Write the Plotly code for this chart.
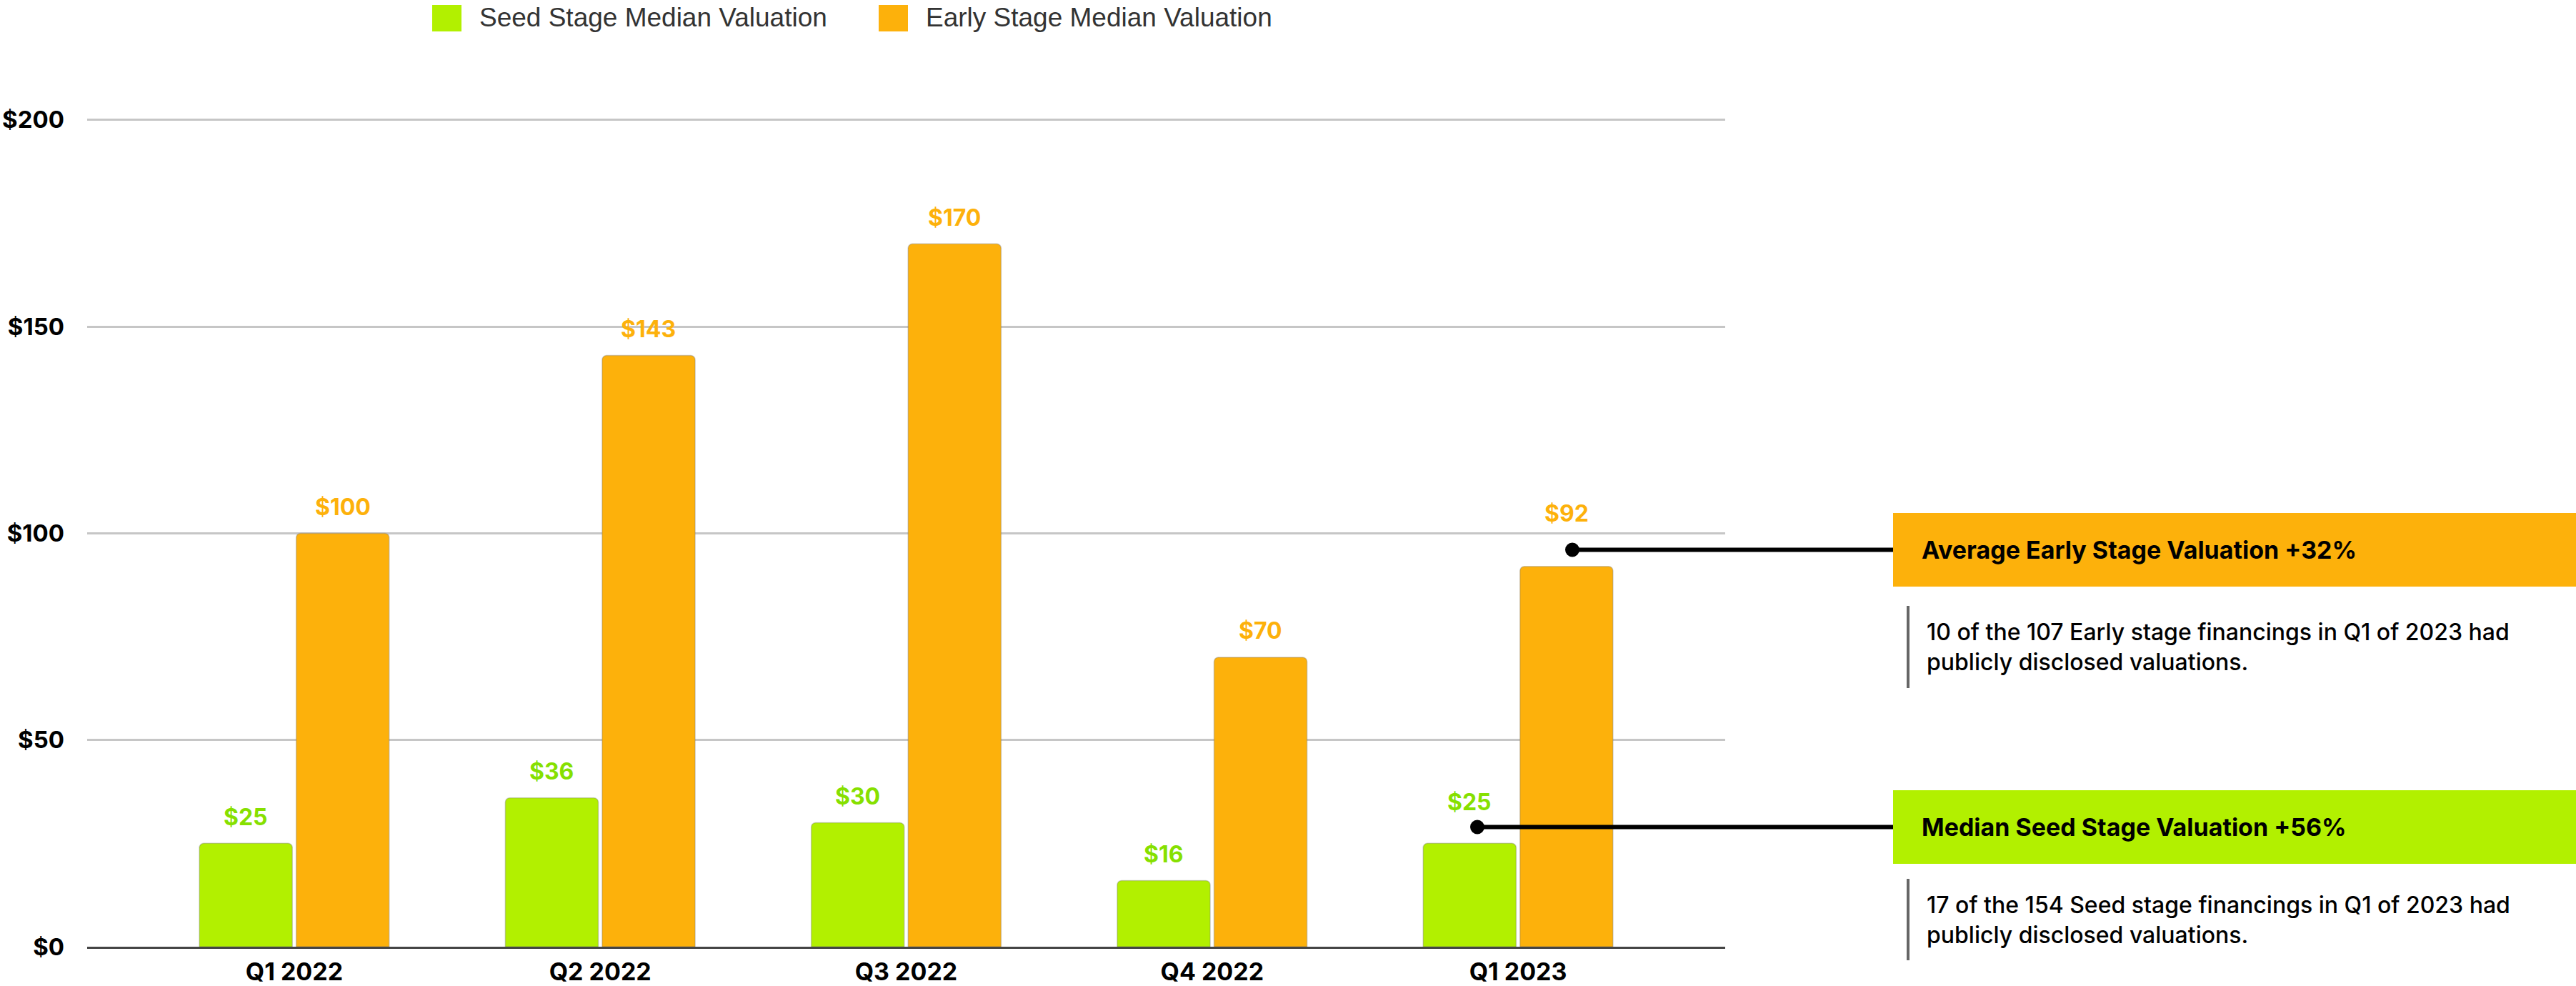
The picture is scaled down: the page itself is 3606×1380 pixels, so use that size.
import plotly.graph_objects as go

# data
quarters = ["Q1 2022", "Q2 2022", "Q3 2022", "Q4 2022", "Q1 2023"]
seed_valuation = [25, 36, 30, 16, 25]
early_valuation = [100, 143, 170, 70, 92]
y_ticks = [0, 50, 100, 150, 200]

seed_name = "Seed Stage Median Valuation"
early_name = "Early Stage Median Valuation"
early_title = "Average Early Stage Valuation +32%"
early_note = "10 of the 107 Early stage financings in Q1 of 2023 had<br>publicly disclosed valuations."
seed_title = "Median Seed Stage Valuation +56%"
seed_note = "17 of the 154 Seed stage financings in Q1 of 2023 had<br>publicly disclosed valuations."

GREEN = "#b2f000"
GREEN_TEXT = "#86e000"
ORANGE = "#fdb10b"
FONT = "Inter"

W, H = 3606, 1380
Y_TOP = 201
L, R, B = 122, 1191, 55
T = 168 - round((Y_TOP - 200) * (1380 - 55 - 168) / 200)
PW, PH = W - L - R, H - T - B
BARGAP = 0.367
XPAD = 0.177


def px(x):
    return (x - L) / PW


def py(y):
    return (H - B - y) / PH


fig = go.Figure()
for name, vals, color in [(seed_name, seed_valuation, GREEN), (early_name, early_valuation, ORANGE)]:
    fig.add_trace(go.Bar(
        x=quarters, y=vals, name=name, showlegend=False,
        marker=dict(color=color, cornerradius=6, line=dict(color="rgba(120,120,120,0.35)", width=1.5)),
        hoverinfo="x+y",
    ))

# value labels above each bar (the last quarter sits a bit higher to clear the callout dots)
cat_px = PW / (len(quarters) + 2 * XPAD)
offset = 0.25 * (1 - BARGAP) * cat_px
for i, (q, s, e) in enumerate(zip(quarters, seed_valuation, early_valuation)):
    last = i == len(quarters) - 1
    fig.add_annotation(x=q, y=s, text=f"${s}", showarrow=False, xshift=-offset, yshift=58 if last else 37,
                       font=dict(family=FONT, size=32, color=GREEN_TEXT, weight="bold"))
    fig.add_annotation(x=q, y=e, text=f"${e}", showarrow=False, xshift=offset, yshift=74 if last else 37,
                       font=dict(family=FONT, size=32, color=ORANGE, weight="bold"))

# legend drawn by hand so the swatches can be large
for x0, color, label in [(605, GREEN, seed_name), (1230, ORANGE, early_name)]:
    fig.add_shape(type="rect", xref="paper", yref="paper", x0=px(x0), x1=px(x0 + 41),
                  y0=py(44), y1=py(7), fillcolor=color, line=dict(width=0))
    fig.add_annotation(xref="paper", yref="paper", x=px(x0 + 64), y=py(25), text=label,
                       showarrow=False, xanchor="left", yanchor="middle",
                       font=dict(family="Liberation Sans", size=37, color="#333333"))

# callouts on the right
callouts = [
    (ORANGE, early_title, early_note, 718, 821, 2201, 848, 963),
    (GREEN, seed_title, seed_note, 1106, 1209, 2068, 1230, 1344),
]
for color, title, note, by0, by1, dot_x, gy0, gy1 in callouts:
    cy = (by0 + by1) / 2
    fig.add_shape(type="rect", xref="paper", yref="paper", x0=px(2650), x1=px(W),
                  y0=py(by1), y1=py(by0), fillcolor=color, line=dict(width=0))
    fig.add_shape(type="line", xref="paper", yref="paper", x0=px(dot_x), x1=px(2650),
                  y0=py(cy), y1=py(cy), line=dict(color="black", width=6))
    fig.add_shape(type="circle", xref="paper", yref="paper", x0=px(dot_x - 10), x1=px(dot_x + 10),
                  y0=py(cy + 10), y1=py(cy - 10), fillcolor="black", line=dict(width=0))
    fig.add_annotation(xref="paper", yref="paper", x=px(2688), y=py(cy), text=title,
                       showarrow=False, xanchor="left", yanchor="middle",
                       font=dict(family=FONT, size=34, color="black", weight="bold"))
    fig.add_shape(type="line", xref="paper", yref="paper", x0=px(2671), x1=px(2671),
                  y0=py(gy1), y1=py(gy0), line=dict(color="#666666", width=4))
    fig.add_annotation(xref="paper", yref="paper", x=px(2695), y=py((gy0 + gy1) / 2), text=note,
                       showarrow=False, xanchor="left", yanchor="middle", align="left",
                       font=dict(family=FONT, size=32, color="black", weight=500))

fig.update_layout(
    width=W, height=H,
    margin=dict(l=L, r=R, t=T, b=B, autoexpand=False),
    paper_bgcolor="white", plot_bgcolor="white",
    barmode="group", bargap=BARGAP, bargroupgap=0.04,
    showlegend=False,
)
fig.update_xaxes(
    range=[-0.5 - XPAD, len(quarters) - 0.5 + XPAD],
    showline=True, linecolor="#444444", linewidth=3,
    showgrid=False, ticks="", ticklabelstandoff=3,
    tickfont=dict(family=FONT, size=34, color="black", weight="bold"),
)
fig.update_yaxes(
    range=[0, Y_TOP], tickvals=y_ticks, ticktext=[f"${v}" for v in y_ticks],
    showgrid=True, gridcolor="#c6c6c6", gridwidth=3, zeroline=False,
    ticks="", ticklabelstandoff=31,
    tickfont=dict(family=FONT, size=33, color="black", weight="bold"),
)

fig.write_html("out.html", config={"displayModeBar": False},
               post_script="document.body.style.margin='0';")
